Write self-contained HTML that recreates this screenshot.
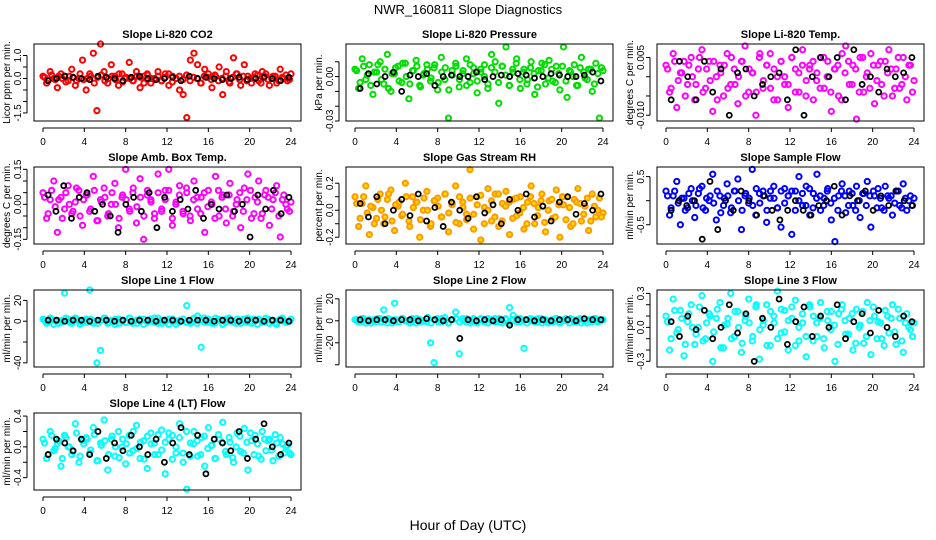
<!DOCTYPE html>
<html><head><meta charset="utf-8"><style>
body{margin:0;background:#fff;}
svg{display:block;font-family:"Liberation Sans",sans-serif;}
</style></head><body>
<svg id="c" width="936" height="540">
<text x="468" y="14" text-anchor="middle" font-size="13">NWR_160811  Slope Diagnostics</text>
<text x="468" y="530" text-anchor="middle" font-size="14">Hour of Day (UTC)</text>
</svg>
<script>
const titles=["Slope Li-820 CO2","Slope Li-820 Pressure","Slope Li-820 Temp.","Slope Amb. Box Temp.","Slope Gas Stream RH","Slope Sample Flow","Slope Line 1 Flow","Slope Line 2 Flow","Slope Line 3 Flow","Slope Line 4 (LT) Flow"];
const yTitles=["Licor ppm per min.","kPa per min.","degrees C per min.","degrees C per min.","percent per min.","ml/min per min.","ml/min per min.","ml/min per min.","ml/min per min.","ml/min per min."];
const xTicks=[0,4,8,12,16,20,24];
const yLims=[[-1.85,1.5],[-0.03,0.022],[-0.0115,0.0085],[-0.17,0.16],[-0.25,0.32],[-0.9,0.7],[-44,30],[-42,28],[-0.35,0.33],[-0.56,0.44]];
const yTicks=[[-1.5,-1,-0.5,0,0.5,1],[-0.03,-0.02,-0.01,0,0.01],[-0.01,-0.005,0,0.005],[-0.15,-0.1,-0.05,0,0.05,0.1,0.15],[-0.2,-0.1,0,0.1,0.2],[-0.5,0,0.5],[-40,-20,0,20],[-40,-20,0,20],[-0.3,-0.2,-0.1,0,0.1,0.2,0.3],[-0.4,-0.2,0,0.2,0.4]];
const yTickLabels=[["-1.5","","","0.0","","1.0"],["-0.03","","","0.00",""],["-0.010","","","0.005"],["-0.15","","","0.00","","","0.15"],["-0.2","","0.0","","0.2"],["-0.5","","0.5"],["-40","","0","20"],["","-20","0","20"],["-0.3","","","0.0","","","0.3"],["-0.4","","0.0","","0.4"]];
const colors=["#ff0000","#00dd00","#ff00ff","#ff00ff","#ff9900","#0000ff","#00ffff","#00ffff","#00ffff","#00ffff"];
const colorVals=[
[0.1,-0.2,0.3,0,-0.4,0.2,0.1,-0.1,0.4,-0.3,0,0.8,-0.5,0.2,1.1,-1.4,1.5,0.3,-0.2,0.6,0.1,-0.3,0.2,0,0.7,-0.1,0.3,-0.4,0.1,0.2,-0.2,0,0.3,-0.1,0.2,-0.3,0.1,0,-0.5,-0.7,-1.7,0.8,1.1,0.6,-0.2,0.4,0.2,-0.4,0.1,0.5,-0.7,0.3,-0.2,0.9,0.2,-0.3,0.6,0.1,-0.2,0.2,-0.1,0.3,0.2,-0.3,0.1,-0.2,0.4,0,-0.1,0.2],
[0.005,-0.008,0.012,-0.002,0.008,-0.012,0.003,0.01,-0.005,0.015,-0.01,0.002,0.007,-0.004,0.009,-0.015,0.004,0.011,-0.006,0.001,0.008,-0.003,0.006,-0.009,0.013,-0.002,-0.028,0.004,0.009,-0.007,0.002,0.012,-0.004,0.006,-0.011,0.003,0.008,-0.005,0.015,0.01,-0.018,0.007,0.02,-0.006,0.003,0.012,-0.008,0.005,-0.002,0.01,-0.012,0.004,0.009,-0.005,0.011,-0.003,0.007,-0.009,0.02,-0.014,0.003,0.008,-0.006,0.013,-0.001,0.005,-0.01,0.009,-0.028,0.004],
[0.003,-0.004,0.006,-0.008,0.001,0.004,-0.002,0.005,-0.006,0.002,0.007,-0.003,0.004,-0.009,0.0,0.003,-0.005,0.006,-0.002,0.002,-0.007,0.004,0.008,-0.004,0.001,-0.010,0.005,-0.003,0.003,0.006,-0.006,0.0,0.004,-0.002,-0.008,0.005,0.002,-0.004,0.007,-0.001,0.003,-0.006,0.001,0.005,-0.003,0.004,-0.009,0.002,-0.005,0.006,0.008,-0.002,0.003,-0.011,0.005,-0.004,0.001,0.006,-0.007,0.003,-0.002,0.004,0.007,-0.005,0.002,-0.003,0.005,-0.006,0.003,-0.001],
[0.05,-0.06,0.02,0.1,-0.12,0.03,-0.02,0.08,-0.04,0.01,0.06,-0.09,0.04,-0.03,0.12,-0.07,0.02,0.07,-0.05,0.0,0.09,-0.1,0.03,0.15,-0.02,0.05,-0.08,0.11,-0.15,0.04,0.02,-0.06,0.13,-0.03,0.06,0.15,-0.09,0.01,0.08,-0.04,0.05,-0.07,0.1,-0.02,0.03,-0.12,0.06,0.0,0.12,-0.05,0.04,-0.08,0.09,-0.03,0.02,-0.1,0.07,0.13,-0.06,0.03,0.1,-0.04,0.06,-0.09,0.02,0.08,-0.14,0.04,-0.02,0.01],
[0.1,-0.12,0.05,0.18,-0.18,0.02,-0.06,0.12,-0.1,0.08,0.15,-0.15,0.03,-0.04,0.2,-0.08,0.1,0.06,-0.2,0.0,0.14,-0.12,0.07,0.09,-0.05,0.12,-0.16,0.04,0.18,-0.1,0.06,-0.03,0.3,-0.14,0.1,-0.22,0.02,0.16,-0.08,0.12,-0.12,0.05,0.14,-0.18,0.08,-0.04,0.1,-0.14,0.06,0.18,-0.1,0.02,0.12,-0.16,0.07,-0.06,0.15,-0.2,0.04,0.1,-0.12,0.08,0.16,-0.08,0.03,-0.15,0.12,-0.05,0.09,-0.02],
[0.2,-0.3,0.1,0.4,-0.5,0.05,-0.15,0.25,-0.35,0.15,0.3,-0.2,0.0,0.55,-0.4,0.1,-0.1,0.35,-0.25,0.2,0.45,-0.6,0.1,-0.05,0.65,-0.3,0.15,0.2,-0.45,0.05,0.3,-0.15,-0.55,0.25,0.1,-0.7,0.2,0.5,-0.1,0.3,-0.3,0.15,0.55,-0.2,0.05,0.25,-0.4,-0.85,0.1,0.35,-0.25,0.2,-0.1,0.3,-0.35,0.15,0.4,-0.55,0.1,0.25,-0.15,0.3,0.05,-0.3,0.2,-0.1,0.35,-0.2,0.1,0.05],
[2,-2,3,-3,1,-1,27,2,-2,3,0,-1,2,30,-2,-40,-28,3,-2,1,-3,2,0,-1,3,-2,1,2,-3,0,2,-1,3,-2,1,-3,2,0,-1,2,15,-2,3,5,-25,-1,2,-2,3,1,-3,2,0,-1,2,-2,1,3,-2,0,2,-1,3,-2,1,-3,2,0,-1,2],
[1,-1,2,-2,1,0,-1,2,10,-2,1,16,-1,2,0,-1,2,-2,1,0,-1,-20,-38,2,-1,3,-2,1,8,-30,2,-1,0,2,-2,1,-1,2,0,-1,2,-2,1,12,5,-1,2,-25,1,0,-1,2,-2,1,0,-1,2,-2,1,0,2,-1,1,-2,0,1,-1,2,0,1],
[0.1,-0.2,0.25,-0.05,0.15,-0.25,0.05,0.2,-0.15,0.0,0.28,-0.1,0.12,-0.3,0.08,0.22,-0.18,0.03,0.3,-0.08,0.14,-0.22,0.06,0.25,-0.12,0.18,-0.28,0.02,0.2,-0.16,0.1,0.32,-0.05,0.15,-0.2,0.08,0.24,-0.12,0.04,-0.26,0.18,0.1,-0.08,0.22,-0.18,0.06,0.14,-0.3,0.12,0.2,-0.06,0.08,-0.2,0.16,0.02,-0.14,0.22,-0.24,0.1,0.05,-0.1,0.15,-0.05,0.2,-0.15,0.08,-0.22,0.12,-0.02,0.04],
[0.1,-0.15,0.2,-0.05,0.05,-0.25,0.15,0.0,-0.1,0.3,-0.2,0.08,0.12,-0.08,0.25,-0.18,0.05,0.35,-0.3,0.1,-0.12,0.2,0.0,-0.22,0.15,-0.05,0.28,-0.15,0.08,-0.28,0.18,0.05,-0.1,0.22,-0.35,0.1,0.15,-0.08,0.3,-0.2,-0.55,0.05,0.2,-0.12,0.12,-0.25,0.25,0.02,-0.15,0.1,0.32,-0.1,0.06,-0.2,0.18,-0.06,0.24,-0.3,0.08,0.15,-0.12,0.2,-0.05,0.1,-0.18,0.05,0.12,-0.08,0.02,-0.1]
];
// dense core band of each series (second batch of observations)
const bandVals=[
[0.05,-0.1,0.15,-0.05,0.1,0,-0.15,0.1,0.05,-0.1,0.2,-0.05,0,0.1,-0.2,0.05,0.15,-0.1,0,0.1,-0.05,0.2,-0.15,0.05,0,-0.1,0.1,0.05,-0.2,0.15,0,-0.05,0.1,-0.1,0.05,0.2,-0.15,0,0.1,-0.05,0.15,-0.1,0.05,0,-0.2,0.1,0.05,-0.05,0.15,-0.1,0,0.1,-0.15,0.05,0.2,-0.05,0.1,-0.1,0,0.05,0.15,-0.2,0.1,-0.05,0,0.1,-0.1,0.05,0.15,-0.05],
[0.004,-0.004,0.007,0.001,-0.006,0.003,0.008,-0.002,0.005,-0.008,0.002,0.006,-0.003,0.009,0.0,-0.005,0.004,0.007,-0.007,0.002,0.005,-0.001,0.008,-0.004,0.003,0.006,-0.009,0.001,0.007,-0.002,0.004,-0.006,0.008,0.002,-0.003,0.005,0.0,-0.008,0.006,0.003,-0.004,0.007,0.001,-0.006,0.005,0.009,-0.002,0.003,-0.005,0.006,0.002,-0.007,0.004,0.008,-0.001,0.005,-0.004,0.002,0.007,-0.003,0.004,0.0,-0.006,0.006,0.003,-0.002,0.005,-0.005,0.002,0.006],
[0.002,-0.003,0.004,-0.001,0.001,-0.005,0.003,0.0,-0.002,0.005,-0.004,0.002,-0.001,0.004,-0.006,0.001,0.003,-0.003,0.005,-0.002,0.0,0.004,-0.005,0.002,0.001,-0.004,0.006,-0.001,0.003,-0.003,0.002,-0.006,0.004,0.0,-0.002,0.005,-0.004,0.001,0.003,-0.005,0.002,0.004,-0.001,-0.003,0.005,0.0,-0.004,0.002,0.003,-0.006,0.001,0.004,-0.002,0.002,-0.004,0.005,0.0,-0.003,0.003,-0.001,0.004,-0.005,0.001,0.002,-0.003,0.005,-0.002,0.0,0.003,-0.004],
[0.03,-0.04,0.06,-0.01,0.02,-0.06,0.05,0.0,-0.03,0.07,-0.05,0.02,0.04,-0.02,0.06,-0.07,0.01,0.03,-0.04,0.05,0.0,-0.06,0.04,0.02,-0.03,0.07,-0.01,0.03,-0.05,0.06,0.01,-0.04,0.05,-0.02,0.02,0.06,-0.06,0.0,0.04,-0.03,0.07,-0.05,0.02,0.03,-0.04,0.05,-0.01,0.01,-0.06,0.06,0.03,-0.02,0.04,-0.05,0.0,0.05,-0.03,0.02,0.06,-0.04,0.01,-0.06,0.04,0.03,-0.02,0.05,-0.05,0.02,0.0,-0.03],
[0.05,-0.06,0.1,-0.02,0.03,-0.1,0.08,0.0,-0.05,0.12,-0.08,0.04,0.06,-0.03,0.1,-0.12,0.02,0.06,-0.07,0.09,0.0,-0.1,0.07,0.03,-0.05,0.12,-0.02,0.05,-0.09,0.1,0.02,-0.07,0.09,-0.03,0.04,0.11,-0.1,0.0,0.07,-0.05,0.12,-0.08,0.03,0.06,-0.06,0.09,-0.02,0.02,-0.1,0.1,0.05,-0.04,0.07,-0.09,0.0,0.08,-0.05,0.04,0.1,-0.07,0.02,-0.1,0.06,0.05,-0.03,0.09,-0.08,0.03,0.0,-0.05],
[0.1,-0.15,0.2,-0.05,0.05,-0.2,0.15,0.0,-0.1,0.25,-0.15,0.05,0.1,-0.05,0.2,-0.25,0.05,0.1,-0.15,0.2,0.0,-0.2,0.15,0.05,-0.1,0.25,-0.05,0.1,-0.2,0.2,0.05,-0.15,0.2,-0.05,0.1,0.2,-0.2,0.0,0.15,-0.1,0.25,-0.15,0.05,0.1,-0.1,0.2,-0.05,0.05,-0.2,0.2,0.1,-0.1,0.15,-0.2,0.0,0.15,-0.1,0.1,0.2,-0.15,0.05,-0.2,0.1,0.1,-0.05,0.2,-0.15,0.05,0.0,-0.1],
[1,-1,2,0,-2,1,3,-1,0,2,-3,1,-1,2,0,-2,1,3,-1,0,2,-2,1,-1,3,0,-2,1,2,-1,0,3,-2,1,-1,2,0,-3,1,2,-1,0,2,-2,1,3,-1,0,-2,2,1,-1,3,0,-2,1,2,-1,0,2,-3,1,-1,2,0,-2,1,3,-1,0],
[1,-1,2,0,-2,1,2,-1,0,2,-2,1,-1,2,0,-2,1,2,-1,0,3,-2,1,-1,2,0,-2,1,2,-1,0,2,-2,1,-1,2,0,-2,1,2,-1,0,2,-2,1,2,-1,0,-2,2,1,-1,2,0,-2,1,2,-1,0,2,-2,1,-1,2,0,-2,1,2,-1,0],
[0.05,-0.1,0.15,-0.02,0.08,-0.15,0.12,0.0,-0.06,0.18,-0.12,0.04,0.1,-0.04,0.16,-0.18,0.02,0.08,-0.1,0.14,0.0,-0.14,0.1,0.04,-0.08,0.2,-0.02,0.06,-0.16,0.14,0.04,-0.1,0.16,-0.04,0.06,0.18,-0.16,0.0,0.12,-0.08,0.2,-0.12,0.04,0.08,-0.1,0.14,-0.02,0.02,-0.15,0.16,0.06,-0.06,0.12,-0.14,0.0,0.14,-0.08,0.06,0.18,-0.1,0.04,-0.16,0.1,0.08,-0.04,0.16,-0.12,0.04,0.0,-0.08],
[0.05,-0.1,0.15,-0.02,0.08,-0.15,0.12,0.0,-0.06,0.18,-0.12,0.04,0.1,-0.04,0.16,-0.18,0.02,0.08,-0.1,0.14,0.0,-0.14,0.1,0.04,-0.08,0.2,-0.02,0.06,-0.16,0.14,0.04,-0.1,0.16,-0.04,0.06,0.18,-0.16,0.0,0.12,-0.08,0.2,-0.12,0.04,0.08,-0.1,0.14,-0.02,0.02,-0.15,0.16,0.06,-0.06,0.12,-0.14,0.0,0.14,-0.08,0.06,0.18,-0.1,0.04,-0.16,0.1,0.08,-0.04,0.16,-0.12,0.04,0.0,-0.08]
];
const blackVals=[
[-0.1,0,0.1,0.05,0,-0.05,0.1,0.05,0,-0.1,0.05,0.1,0,-0.05,0,0.05,-0.1,0.1,0,0.05,0,-0.05,0,0.05,-0.05,0,0.05,0,-0.1,0.05],
[-0.008,0.002,-0.005,0.0,0.003,-0.01,0.001,0.0,0.002,-0.006,0.0,0.001,0.0,0.0,0.003,-0.002,0.0,0.001,0.0,0.002,0.001,-0.001,0.0,0.002,0.001,0.0,0.0,0.001,0.003,-0.003],
[-0.006,0.004,0.0,-0.006,0.004,-0.004,0.002,-0.01,0.001,0.002,-0.005,-0.002,0.0,0.001,-0.006,0.007,-0.01,0.0,0.005,0.0,0.005,-0.006,0.007,-0.002,0.0,-0.004,0.002,0.0,0.001,0.005],
[0.04,-0.03,0.08,-0.06,0.03,0.05,-0.03,0.0,-0.05,-0.12,0.0,0.03,-0.03,0.05,-0.1,0.03,-0.03,0.02,-0.02,0.06,-0.06,0.0,-0.02,0.04,-0.03,0.0,-0.14,0.04,-0.02,0.06,-0.04,0.03],
[0.05,-0.05,0.1,-0.1,0.0,0.08,-0.04,0.12,-0.08,0.02,-0.12,0.06,0.0,-0.06,0.1,-0.02,0.04,-0.1,0.08,0.0,0.12,-0.05,0.03,-0.08,0.06,0.1,-0.03,0.05,0.0,0.12],
[-0.2,0.0,-0.1,0.0,-0.8,0.4,-0.6,0.0,-0.2,0.2,0.0,-0.3,0.1,-0.2,-0.4,-0.2,0.0,-0.2,-0.3,-0.1,0.0,0.3,-0.3,0.1,0.0,0.2,-0.2,0.1,-0.1,0.2,0.0,-0.1],
[1,1,0,1,1,0,1,1,0,1,0,1,1,0,1,1,0,1,1,1,0,1,1,0,1,1,0,1,1,0],
[1,0,1,1,0,1,1,0,2,1,0,1,-16,1,0,1,0,1,-4,1,1,0,1,0,1,1,0,2,1,1],
[0.05,-0.08,0.1,-0.02,0.15,-0.1,0.0,0.2,-0.05,0.12,-0.3,0.08,0.0,0.25,-0.15,0.05,0.18,-0.08,0.1,0.0,0.2,-0.1,0.05,0.12,-0.05,0.15,0.0,-0.08,0.1,0.05],
[-0.1,0.1,0.05,-0.05,0.1,-0.1,0.2,-0.15,0.05,-0.05,0.15,0.0,-0.1,0.1,-0.2,0.05,0.25,-0.1,0.15,-0.35,0.1,0.05,-0.05,0.2,-0.15,0.1,0.3,0.0,-0.1,0.05]
];
const NS="http://www.w3.org/2000/svg";
const svg=document.getElementById('c');
const colX=[34,346,657], rowY=[44,167,290,413], W=267, H=77;
function mk(t,a,p){const e=document.createElementNS(NS,t);for(const k in a)e.setAttribute(k,a[k]);(p||svg).appendChild(e);return e;}
titles.forEach((title,i)=>{
  const L=colX[i%3], T=rowY[Math.floor(i/3)];
  const g=mk('g',{});
  
  
  const xs=h=>L+9+h*(W-19)/24;
  const ys=v=>T+H-(v-yLims[i][0])/(yLims[i][1]-yLims[i][0])*H;
  const tt=mk('text',{x:L+W/2,y:T-6,'text-anchor':'middle','font-size':11,'font-weight':'bold'},g);tt.textContent=title;
  
  
  const yt=mk('text',{transform:`translate(${L-24},${T+H/2}) rotate(-90)`,'text-anchor':'middle','font-size':10},g);yt.textContent=yTitles[i];
  
  
  [colorVals[i],bandVals[i]].forEach((cv,s)=>{
    cv.forEach((v,k)=>{
      if(v<yLims[i][0]||v>yLims[i][1])return;
      const h=s===0?k*24/(cv.length-1):0.15+k*23.7/(cv.length-1);
      const c=mk('circle',{cx:xs(h),cy:ys(v),r:2.6,fill:i==4?'#ffdd00':'none',stroke:colors[i],'stroke-width':2},g);
      
      
    });
  });
  const bv=blackVals[i];
  bv.forEach((v,k)=>{
    const c=mk('circle',{cx:xs(0.5+k*23.3/(bv.length-1)),cy:ys(v),r:2.5,fill:'none',stroke:'#000','stroke-width':1.8},g);
    
    
  });
  const box=mk('rect',{x:L,y:T,width:W,height:H,fill:'none',stroke:'#000','stroke-width':1},g);
  
  
  mk('line',{x1:xs(0),x2:xs(24),y1:T+H+7,y2:T+H+7,stroke:'#000'},g);
  xTicks.forEach(h=>{
    mk('line',{x1:xs(h),x2:xs(h),y1:T+H+7,y2:T+H+11,stroke:'#000'},g);
    const t=mk('text',{x:xs(h),y:T+H+24,'text-anchor':'middle','font-size':10},g);t.textContent=h;
    
    
  });
  const yt0=yTicks[i];
  mk('line',{x1:L-7,x2:L-7,y1:ys(yt0[0]),y2:ys(yt0[yt0.length-1]),stroke:'#000'},g);
  yt0.forEach((v,k)=>{
    mk('line',{x1:L-11,x2:L-7,y1:ys(v),y2:ys(v),stroke:'#000'},g);
    const lab=yTickLabels[i][k];
    if(lab){const t=mk('text',{transform:`translate(${L-13},${ys(v)}) rotate(-90)`,'text-anchor':'middle','font-size':10},g);t.textContent=lab;
      
      }
  });
});
</script>
</body></html>
